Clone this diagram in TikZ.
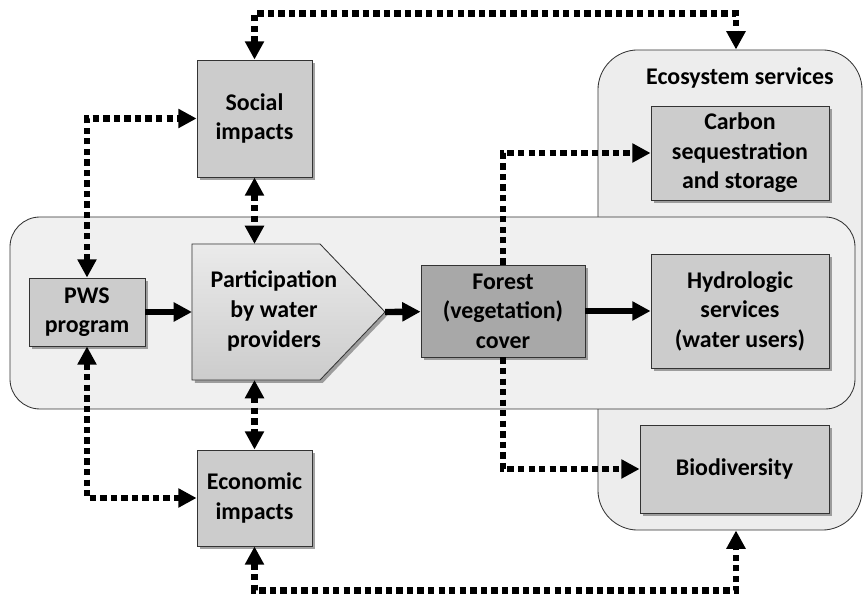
\documentclass[tikz,border=0pt]{standalone}
\usepackage{fontspec}
\setmainfont{Carlito}
\usetikzlibrary{arrows.meta,shadows}
\definecolor{boxgray}{gray}{0.80}
\definecolor{forestgray}{gray}{0.66}
\definecolor{bandgray}{gray}{0.94}
\definecolor{ecogray}{gray}{0.93}
\begin{document}
\begin{tikzpicture}[x=0.025cm,y=-0.025cm,>={Triangle[length=13pt,width=13pt]},
		font=\fontsize{17}{21}\selectfont\bfseries,
		box/.style={draw=black!80,line width=0.6pt,fill=boxgray,align=center,inner sep=2pt,
			drop shadow={shadow xshift=2pt,shadow yshift=-2pt,fill=black!60,opacity=0.6}},
		flow/.style={line width=4.5pt},
		dots/.style={line width=4.5pt,dash pattern=on 4.5pt off 3pt}]
		\useasboundingbox (0,0) rectangle (864,596);
		% background groups
		\node[draw=black!80,line width=0.6pt,fill=ecogray,rounded corners=1cm,minimum width=6.6cm,minimum height=12cm] (eco) at (730,290) {};
		\draw[draw=black!80,line width=0.6pt,fill=bandgray,rounded corners=0.75cm] (10,217) rectangle (855,409);
		\node (ecotitle) at (740,78) {Ecosystem services};
		% boxes
		\node[box,minimum width=2.9cm,minimum height=1.7cm] (pws) at (87,312) {PWS\\program};
		\node[minimum width=4.825cm,minimum height=3.4cm,inner sep=0pt,outer sep=0pt] (part) at (288.5,312) {};
		\draw[box,top color=black!8,bottom color=black!20] (part.north west) -- ([xshift=-1.625cm]part.north east) -- (part.east)
			-- ([xshift=-1.625cm]part.south east) -- (part.south west) -- cycle;
		\node[align=center] (parttext) at (274,311) {Participation\\by water\\providers};
		\node[box,fill=forestgray,minimum width=4.1cm,minimum height=2.3cm] (forest) at (503,311) {Forest\\(vegetation)\\cover};
		\node[box,minimum width=4.45cm,minimum height=2.85cm] (hydro) at (740,311) {Hydrologic\\services\\(water users)};
		\node[box,minimum width=4.45cm,minimum height=2.35cm] (carbon) at (740,153) {Carbon\\sequestration\\and storage};
		\node[box,minimum width=4.725cm,minimum height=2.2cm] (bio) at (734.5,469) {Biodiversity};
		\node[box,minimum width=2.875cm,minimum height=2.925cm] (social) at (254.5,118.5) {Social\\impacts};
		\node[box,minimum width=2.875cm,minimum height=2.4cm] (econ) at (254.5,498) {Economic\\impacts};
		% main flow
		\draw[flow,->] (pws) -- (part);\draw[flow,->] (part.east) -- (forest);\draw[flow,->] (forest) -- (hydro);
		% feedbacks
		\draw[dots,<->] (social.north) -- ++(0,-46) -| ([xshift=0.15cm]eco.north);
		\draw[dots,<->] (pws.north) |- (social.west);
		\draw[dots,<->] (social.south) -- (social.south |- part.north);
		\draw[dots,->] (forest.north) |- (carbon.west);
		\draw[dots,->] (forest.south) |- (bio.west);
		\draw[dots,<->] (pws.south) |- (econ.west);
		\draw[dots,<->] (econ.north |- part.south) -- (econ.north);
		\draw[dots,<->] (econ.south) -- ++(0,44) -| ([xshift=0.15cm]eco.south);
	\end{tikzpicture}
\end{document}
